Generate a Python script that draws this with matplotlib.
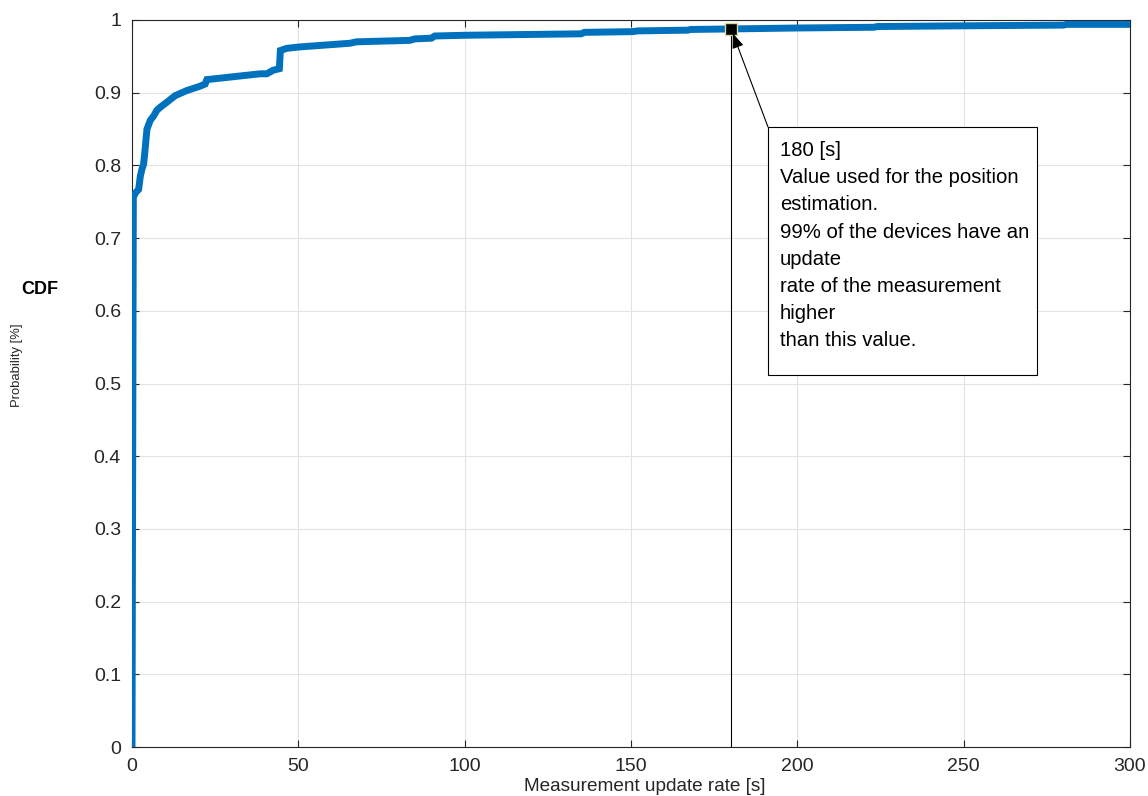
import matplotlib
matplotlib.use("Agg")
import matplotlib.pyplot as plt
from matplotlib.patches import Rectangle

plt.rcParams["font.family"] = ["Liberation Sans", "DejaVu Sans"]

update_rate_s = [0.0, 0.4, 1.0, 2.0, 2.5, 3.0, 3.5, 4.0, 4.5, 5.5, 6.5, 7.5, 8.5,
                 10.5, 13.0, 16.5, 20.5, 22.0, 22.5, 30.5, 38.5, 40.5, 42.5, 44.3,
                 44.6, 46.5, 50.5, 65.5, 67.5, 83.5, 85.0, 90.0, 91.0, 100.0, 135.0,
                 136.0, 150.5, 152.0, 167.0, 168.0, 180.0, 200.0, 223.0, 224.0,
                 250.0, 280.0, 281.0, 300.0]
probability = [0.0, 0.756, 0.762, 0.767, 0.785, 0.795, 0.802, 0.825, 0.850,
               0.862, 0.868, 0.876, 0.880, 0.887, 0.896, 0.903, 0.909, 0.912, 0.918,
               0.922, 0.926, 0.926, 0.931, 0.933, 0.958, 0.961, 0.963, 0.968, 0.970,
               0.972, 0.974, 0.975, 0.978, 0.979, 0.981, 0.983, 0.984, 0.985, 0.986,
               0.987, 0.9877, 0.989, 0.990, 0.991, 0.992, 0.993, 0.994, 0.994]

marker_x = 180
marker_y = 0.9877

x_ticks = [0, 50, 100, 150, 200, 250, 300]
y_ticks = [0, 0.1, 0.2, 0.3, 0.4, 0.5, 0.6, 0.7, 0.8, 0.9, 1]
y_tick_labels = ["0", "0.1", "0.2", "0.3", "0.4", "0.5", "0.6", "0.7", "0.8", "0.9", "1"]

note_text = ("180 [s]\nValue used for the position\nestimation.\n"
             "99% of the devices have an\nupdate\nrate of the measurement\n"
             "higher\nthan this value.")

W, H = 1148, 796


def fx(px):
    return px / W


def fy(py):
    return 1 - py / H


fig = plt.figure(figsize=(11.48, 7.96), dpi=100)
ax = fig.add_axes([fx(132), fy(747), fx(1130) - fx(132), fy(20) - fy(747)])

ax.plot(update_rate_s, probability, color="#0072BD", linewidth=5, zorder=3,
        solid_joinstyle="miter")
ax.plot([marker_x, marker_x], [0, marker_y], color="black", linewidth=0.8, zorder=4)
ax.plot([marker_x], [marker_y], marker="s", markersize=8, color="black",
        markeredgecolor="#d8d8a0", markeredgewidth=1, zorder=5)

ax.set_xlim(0, 300)
ax.set_ylim(0, 1)
ax.set_xticks(x_ticks)
ax.set_yticks(y_ticks)
ax.set_yticklabels(y_tick_labels)
ax.tick_params(direction="in", length=5, width=0.8, colors="#262626",
               labelsize=14, top=True, right=True)
ax.tick_params(axis="x", pad=8)
ax.tick_params(axis="y", pad=8)
for s in ax.spines.values():
    s.set_color("#262626")
    s.set_linewidth(0.8)
ax.grid(True, color="#e3e3e3", linewidth=0.8, zorder=0)
ax.set_axisbelow(True)
ax.set_xlabel("Measurement update rate [s]", fontsize=13.7, color="#262626")
ax.xaxis.set_label_coords(0.514, -0.043)

fig.text(fx(40), fy(289), "CDF", fontsize=13, fontweight="bold",
         ha="center", va="center")
fig.text(fx(17), fy(365), "Probability [%]", fontsize=9.4, rotation=90,
         ha="center", va="center", color="#262626")

# annotation box with arrow
fig.patches.append(Rectangle((fx(768), fy(375)), fx(1037) - fx(768), fy(127) - fy(375),
                             transform=fig.transFigure, facecolor="white",
                             edgecolor="black", linewidth=0.8, zorder=6))
fig.text(fx(780), fy(141), note_text, fontsize=14.6, ha="left", va="top",
         linespacing=1.545, zorder=7)
ax.annotate("", xy=(marker_x + 0.6, marker_y - 0.006), xycoords="data",
            xytext=(fx(768), fy(127)), textcoords="figure fraction",
            arrowprops=dict(arrowstyle="-|>,head_length=0.9,head_width=0.35",
                            color="black", linewidth=0.8, shrinkA=0, shrinkB=0),
            zorder=6)

fig.savefig("out.png", dpi=100)
